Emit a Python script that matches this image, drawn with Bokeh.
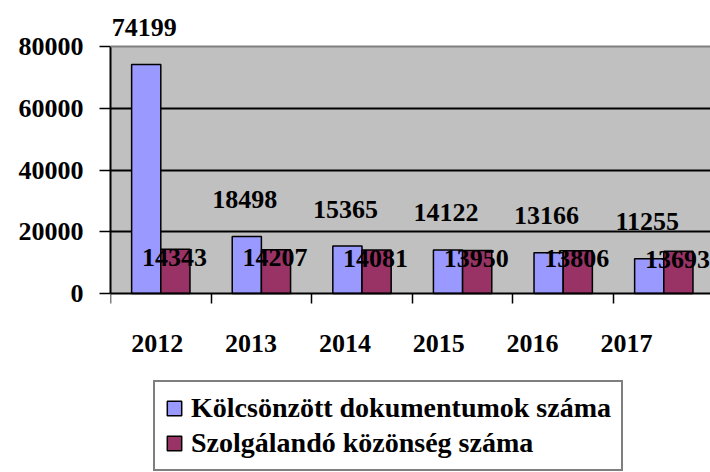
from bokeh.plotting import figure
from bokeh.models import (ColumnDataSource, FixedTicker, LabelSet, Legend, LegendItem,
                          Range1d, BoxAnnotation, Span)
from bokeh.embed import file_html
from bokeh.resources import INLINE

years = ["2012", "2013", "2014", "2015", "2016", "2017"]
kolcsonzott = [74199, 18498, 15365, 14122, 13166, 11255]
szolgalando = [14343, 14207, 14081, 13950, 13806, 13693]
y_ticks = [0, 20000, 40000, 60000, 80000]

FONT = "Liberation Serif"
BLUE = "#9999FF"
MAROON = "#993366"
GRAY = "#C0C0C0"

n = len(years)
bar_w = 0.29
blue_x = [i + 0.5 - bar_w / 2 for i in range(n)]
red_x = [i + 0.5 + bar_w / 2 for i in range(n)]
label_step = 0.933
label_pos = [0.464 + i * label_step for i in range(n)]

W, H = 710, 472
y_max = y_ticks[-1]
frame_top_px, area_top_px, zero_px = 8, 46, 293
units_per_px = y_max / (zero_px - area_top_px)
y_end = (zero_px - frame_top_px) * units_per_px
y_start = -(H - zero_px) * units_per_px

src = ColumnDataSource(dict(
    bx=blue_x, rx=red_x, k=kolcsonzott, s=szolgalando,
    kt=[str(v) for v in kolcsonzott], st=[str(v) for v in szolgalando],
))

p = figure(width=W, height=H, output_backend="svg", toolbar_location=None,
           x_range=Range1d(0, 600 / 100.6), y_range=Range1d(y_start, y_end),
           min_border_left=110, min_border_right=0, min_border_top=frame_top_px,
           min_border_bottom=0,
           background_fill_color="white", border_fill_color="white")
p.outline_line_color = None

p.add_layout(BoxAnnotation(bottom=0, top=y_max, fill_color=GRAY, fill_alpha=1,
                           line_color=None, level="image"))
p.add_layout(Span(location=y_max, dimension="width", line_color="#808080",
                  line_width=2))

r1 = p.vbar(x="bx", top="k", width=bar_w, source=src, fill_color=BLUE,
            line_color="black", line_width=1.5)
r2 = p.vbar(x="rx", top="s", width=bar_w, source=src, fill_color=MAROON,
            line_color="black", line_width=1.5)

# axes
p.xaxis.fixed_location = 0
p.xaxis.ticker = FixedTicker(ticks=label_pos, minor_ticks=list(range(n + 1)))
p.xaxis.major_label_overrides = {t: y for t, y in zip(label_pos, years)}
p.xaxis.major_tick_out = 0
p.xaxis.major_tick_in = 0
p.xaxis.minor_tick_out = 10
p.xaxis.minor_tick_in = 0
p.xaxis.minor_tick_line_color = "black"
p.xaxis.minor_tick_line_width = 1.5
p.xaxis.major_label_standoff = 31

p.yaxis.ticker = FixedTicker(ticks=y_ticks, minor_ticks=[])
p.yaxis.bounds = (0, y_max)
p.yaxis.major_tick_out = 11
p.yaxis.major_tick_in = 0
p.yaxis.major_label_standoff = 16
p.yaxis.minor_tick_out = 0
p.yaxis.minor_tick_in = 0

for ax in (p.xaxis[0], p.yaxis[0]):
    ax.axis_line_color = "black"
    ax.axis_line_width = 2
    ax.major_tick_line_color = "black"
    ax.major_tick_line_width = 1.5
    ax.major_label_text_font = FONT
    ax.major_label_text_font_style = "bold"
    ax.major_label_text_font_size = "26px"
    ax.major_label_text_color = "black"

p.xgrid.visible = False
p.ygrid.ticker = FixedTicker(ticks=y_ticks[1:-1])
p.ygrid.grid_line_color = "black"
p.ygrid.grid_line_width = 2

# data labels
lab_k = LabelSet(x="bx", y="k", text="kt", source=src, y_offset=37, x_offset=-2,
                 text_align="center", text_baseline="middle",
                 text_font=FONT, text_font_style="bold", text_font_size="26px",
                 text_color="black")
lab_s = LabelSet(x="rx", y="s", text="st", source=src, y_offset=-8, x_offset=-1,
                 text_align="center", text_baseline="middle",
                 text_font=FONT, text_font_style="bold", text_font_size="26px",
                 text_color="black")
p.add_layout(lab_k)
p.add_layout(lab_s)

legend = Legend(items=[LegendItem(label="Kölcsönzött dokumentumok száma", renderers=[r1]),
                       LegendItem(label="Szolgálandó közönség száma", renderers=[r2])],
                location=(43, 1), orientation="vertical",
                label_text_font=FONT, label_text_font_style="bold",
                label_text_font_size="28px", label_text_color="black",
                glyph_width=18, glyph_height=18, label_standoff=8,
                padding=10, spacing=3, margin=0,
                border_line_color="black", border_line_width=2,
                background_fill_color="white", background_fill_alpha=1)
p.add_layout(legend, "center")

open("out.html", "w").write(file_html(p, INLINE))
